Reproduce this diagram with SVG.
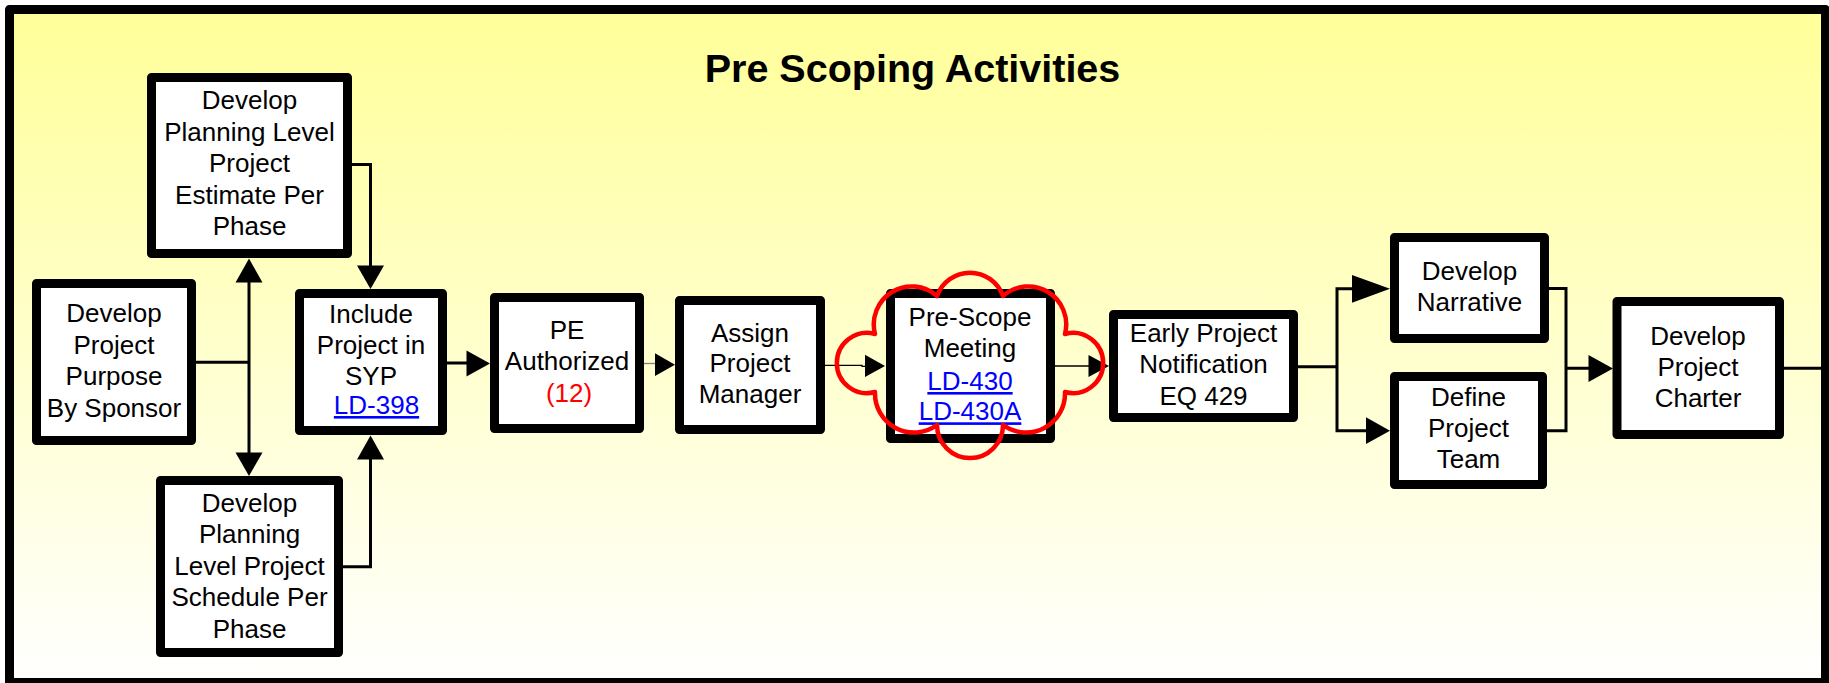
<svg xmlns="http://www.w3.org/2000/svg" width="1829" height="683" viewBox="0 0 1829 683">
  <defs>
    <linearGradient id="bg" x1="0" y1="0" x2="0" y2="1">
      <stop offset="0" stop-color="#FFFF99"/>
      <stop offset="1" stop-color="#FFFFFF"/>
    </linearGradient>
    <style>
      .frame { fill: url(#bg); stroke: #000; stroke-width: 9; stroke-linejoin: round; }
      .box { fill: #FFFFFF; stroke: #000; stroke-width: 9; stroke-linejoin: round; }
      .t { font-family: "Liberation Sans", Arial, sans-serif; font-size: 26px; fill: #000; text-anchor: middle; }
      .link { fill: #0000FF; text-decoration: underline; }
      .red { fill: #FF0000; }
      .title { font-family: "Liberation Sans", Arial, sans-serif; font-size: 39.5px; font-weight: bold; fill: #000; text-anchor: middle; }
      .wire { fill: none; stroke: #000; stroke-width: 3; }
      .thin { fill: none; stroke: #000; stroke-width: 1.3; }
      .gray { fill: none; stroke: #808080; stroke-width: 1.3; }
      .head { fill: #000; stroke: none; }
      .cloud { fill: none; stroke: #FF0000; stroke-width: 4.5; stroke-linejoin: round; }
    </style>
  </defs>

  <rect class="frame" x="9.5" y="9.5" width="1816" height="673"/>
  <text class="title" x="912.5" y="82">Pre Scoping Activities</text>

  <g id="connectors">
    <path class="wire" d="M196,362.3 H249 M249,282 V453"/>
    <polygon class="head" points="249,258.5 235.5,282.5 262.5,282.5"/>
    <polygon class="head" points="249,476 235.5,452.5 262.5,452.5"/>
    <path class="wire" d="M352,164.5 H370.5 V266"/>
    <polygon class="head" points="370.5,289 357,265.5 384,265.5"/>
    <path class="wire" d="M343,566.7 H370.5 V459"/>
    <polygon class="head" points="370.5,435.5 357,459.5 384,459.5"/>
    <path class="wire" d="M447,363 H467"/>
    <polygon class="head" points="490,363.5 466.5,350.5 466.5,376.5"/>
    <path class="gray" d="M644,363.5 H656"/>
    <polygon class="head" points="675,364.7 655,353.3 655,376"/>
    <path class="thin" d="M825,365.3 H862 V366.3 H866"/>
    <polygon class="head" points="885,366 865,354.7 865,377"/>
    <path class="thin" d="M1055,366 H1089"/>
    <polygon class="head" points="1109,366 1088.5,355 1088.5,377"/>
    <path class="wire" d="M1298,366.7 H1337 M1337,288.5 V430.7 M1335.5,288.8 H1353 M1335.5,430.7 H1367"/>
    <polygon class="head" points="1390,288.8 1352,275 1352,302.7"/>
    <polygon class="head" points="1390,430.7 1366,417.3 1366,444"/>
    <path class="wire" d="M1548,288.5 H1566 V430.7 H1546 M1566,368.3 H1589"/>
    <polygon class="head" points="1613,368.5 1588.5,355 1588.5,382"/>
    <path class="wire" d="M1784,368.3 H1821"/>
  </g>

  <g id="node-estimate">
    <rect class="box" x="151.5" y="77.5" width="196" height="176"/>
    <text class="t" x="249.5" y="109">Develop</text>
    <text class="t" x="249.5" y="140.5">Planning Level</text>
    <text class="t" x="249.5" y="172">Project</text>
    <text class="t" x="249.5" y="203.5">Estimate Per</text>
    <text class="t" x="249.5" y="235">Phase</text>
  </g>

  <g id="node-purpose">
    <rect class="box" x="36.5" y="283.5" width="155" height="157"/>
    <text class="t" x="114" y="322">Develop</text>
    <text class="t" x="114" y="353.5">Project</text>
    <text class="t" x="114" y="385">Purpose</text>
    <text class="t" x="114" y="416.5">By Sponsor</text>
  </g>

  <g id="node-schedule">
    <rect class="box" x="160.5" y="480.5" width="178" height="172"/>
    <text class="t" x="249.5" y="511.5">Develop</text>
    <text class="t" x="249.5" y="543">Planning</text>
    <text class="t" x="249.5" y="574.5">Level Project</text>
    <text class="t" x="249.5" y="606">Schedule Per</text>
    <text class="t" x="249.5" y="637.5">Phase</text>
  </g>

  <g id="node-syp">
    <rect class="box" x="299.5" y="293.5" width="143" height="137"/>
    <text class="t" x="371" y="322.5">Include</text>
    <text class="t" x="371" y="354">Project in</text>
    <text class="t" x="371" y="385">SYP</text>
    <text class="t link" x="376.5" y="414">LD-398</text>
  </g>

  <g id="node-pe">
    <rect class="box" x="494.5" y="297.5" width="145" height="131"/>
    <text class="t" x="567" y="339">PE</text>
    <text class="t" x="567" y="370">Authorized</text>
    <text class="t red" x="569" y="401.5">(12)</text>
  </g>

  <g id="node-assign">
    <rect class="box" x="679.5" y="300.5" width="141" height="129"/>
    <text class="t" x="750" y="341.5">Assign</text>
    <text class="t" x="750" y="372">Project</text>
    <text class="t" x="750" y="403">Manager</text>
  </g>

  <g id="node-prescope">
    <rect class="box" x="890.5" y="293.5" width="160" height="145"/>
    <text class="t" x="970" y="325.5">Pre-Scope</text>
    <text class="t" x="970" y="356.5">Meeting</text>
    <text class="t link" x="970" y="390">LD-430</text>
    <text class="t link" x="970" y="420.3">LD-430A</text>
    <path class="cloud" d="M937,296 A35,35 0 0 1 1003,296 A38,38 0 0 1 1065,334 A30.1,30.1 0 1 1 1065,392 A39,39 0 0 1 1003,425 A33,33 0 0 1 937,425 A39,39 0 0 1 875,392 A30.1,30.1 0 1 1 875,334 A38,38 0 0 1 937,296 Z"/>
  </g>

  <g id="node-notification">
    <rect class="box" x="1113.5" y="314.5" width="180" height="103"/>
    <text class="t" x="1203.5" y="342">Early Project</text>
    <text class="t" x="1203.5" y="373">Notification</text>
    <text class="t" x="1203.5" y="404.5">EQ 429</text>
  </g>

  <g id="node-narrative">
    <rect class="box" x="1394.5" y="237.5" width="150" height="101"/>
    <text class="t" x="1469.5" y="280">Develop</text>
    <text class="t" x="1469.5" y="311">Narrative</text>
  </g>

  <g id="node-team">
    <rect class="box" x="1394.5" y="376.5" width="148" height="108"/>
    <text class="t" x="1468.5" y="406">Define</text>
    <text class="t" x="1468.5" y="437">Project</text>
    <text class="t" x="1468.5" y="468">Team</text>
  </g>

  <g id="node-charter">
    <rect class="box" x="1617" y="301.5" width="162.5" height="133"/>
    <text class="t" x="1698" y="345">Develop</text>
    <text class="t" x="1698" y="375.5">Project</text>
    <text class="t" x="1698" y="406.5">Charter</text>
  </g>
</svg>
